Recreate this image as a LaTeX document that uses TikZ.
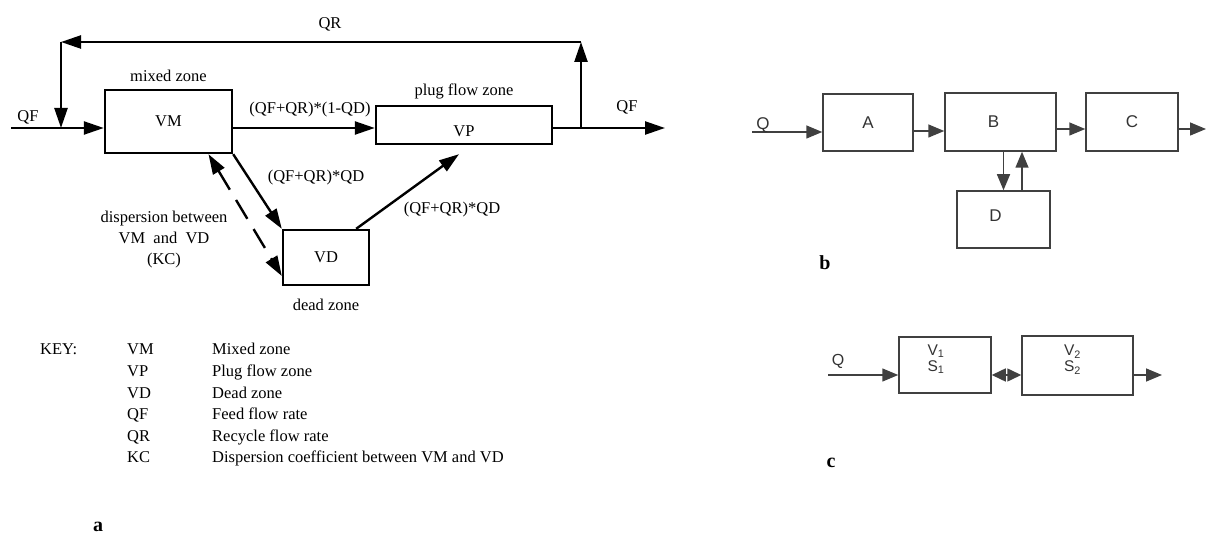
\documentclass[tikz,border=0pt]{standalone}
\usepackage{fontspec}
\setmainfont{Liberation Serif}
\setsansfont{Liberation Sans}
\usetikzlibrary{arrows.meta, positioning, calc}

\begin{document}
\begin{tikzpicture}[x=1pt, y=-1pt, >={Triangle[length=20pt,width=13pt]}, font=\fontsize{16.5}{19}\selectfont,
  zone/.style={draw, line width=2.4pt, inner sep=0pt},
  flow/.style={->, line width=2.4pt},
  blk/.style={draw=black!75, line width=1.5pt, inner sep=0pt, text=black!80, font=\sffamily\fontsize{17}{17}\selectfont},
  blktext/.style={text=black!80, align=center, font=\sffamily\fontsize{15.5}{16}\selectfont},
  link/.style={-{Triangle[length=16pt,width=13pt]}, draw=black!75, line width=1.5pt},
  tag/.style={anchor=base, inner sep=0pt, font=\bfseries\fontsize{20}{20}\selectfont},
  keyrow/.style={anchor=base west, inner sep=0pt}]

\useasboundingbox (0,0) rectangle (1207,534);

% panel a: zones
\node[zone, minimum width=127pt, minimum height=63pt] (vm) at (168.5,121.5) {VM};
\node[zone, minimum width=176pt, minimum height=38pt, label={[yshift=-6pt]center:VP}] (vp) at (464,125) {};
\node[zone, minimum width=86pt, minimum height=55pt] (vd) at (326,257.5) {VD};
\node[above=4pt of vm] (vmname) {mixed zone};
\node[above=2pt of vp] (vpname) {plug flow zone};
\node[below=9pt of vd] (vdname) {dead zone};

% panel a: flows
\coordinate (qfin) at (11,128);
\coordinate (qfout) at (665,128);
\coordinate (rtop) at (581,42);
\coordinate (ltop) at (61,42);
\draw[flow] (qfin) -- (qfin -| vm.west);
\draw[flow] (vm.east |- qfin) -- (vp.west |- qfin);
\draw[flow] (vp.east |- qfin) -- (qfout);
\draw[flow] (rtop |- qfin) -- (rtop);
\draw[flow] (rtop) -- (ltop);
\draw[flow] (ltop) -- (ltop |- qfin);
\draw[flow] (vm.south east) -- (vd.north west);
\draw[flow] ([xshift=-14pt]vd.north east) -- ([xshift=-5pt,yshift=-9pt]vp.south);
\draw[<->, line width=2.4pt, dash pattern=on 22pt off 12pt] ([xshift=40pt]vm.south) -- ([yshift=-18.5pt]vd.west);

\node (qflabin) at (28,117) {QF};
\node (qflabout) at (627,107) {QF};
\node (qrlab) at (330,24) {QR};
\node (toplug) at (310,110) {(QF+QR)*(1-QD)};
\node (todead) at (316,178) {(QF+QR)*QD};
\node (fromdead) at (452,210) {(QF+QR)*QD};
\node[align=center, font=\fontsize{16.5}{21}\selectfont] (kclab) at (164,240) {dispersion between\\VM~~and~~VD\\(KC)};

% panel a: key
\node[keyrow] (keyhead) at (40,355) {KEY:};
\node[keyrow] (kvm) at (127,355) {VM};
\node[keyrow] at (212,355) {Mixed zone};
\node[keyrow] (kvp) at (127,376.5) {VP};
\node[keyrow] at (212,376.5) {Plug flow zone};
\node[keyrow] (kvd) at (127,398) {VD};
\node[keyrow] at (212,398) {Dead zone};
\node[keyrow] (kqf) at (127,419.5) {QF};
\node[keyrow] at (212,419.5) {Feed flow rate};
\node[keyrow] (kqr) at (127,441) {QR};
\node[keyrow] at (212,441) {Recycle flow rate};
\node[keyrow] (kkc) at (127,462.5) {KC};
\node[keyrow] at (212,462.5) {Dispersion coefficient between VM and VD};
\node[tag] (taga) at (98,531) {a};

% panel b
\node[blk, minimum width=90pt, minimum height=57pt] (ba) at (868,122.5) {A};
\node[blk, minimum width=111pt, minimum height=58pt, label={[blktext, font=\sffamily\fontsize{17}{17}\selectfont, xshift=-7pt]center:B}] (bb) at (1000.5,122) {};
\node[blk, minimum width=92pt, minimum height=58pt] (bc) at (1132,122) {C};
\node[blk, minimum width=93pt, minimum height=57pt, label={[blktext, font=\sffamily\fontsize{17}{17}\selectfont, xshift=-8pt, yshift=4pt]center:D}] (bd) at (1003.5,219.5) {};
\coordinate (bin) at (752,132);
\coordinate (bout) at (1206,129);
\draw[link] (bin) -- (bin -| ba.west);
\draw[link] ([yshift=-8.5pt]ba.east) -- ([yshift=-8.5pt]ba.east -| bb.west);
\draw[link] ([yshift=-7pt]bb.east) -- ([yshift=-7pt]bb.east -| bc.west);
\draw[link] (bc.east |- bout) -- (bout);
\draw[link] (bd.north |- bb.south) -- (bd.north);
\draw[link] ([xshift=18.5pt]bd.north) -- ([xshift=18.5pt]bd.north |- bb.south);
\node[blktext, font=\sffamily\fontsize{17}{17}\selectfont] (qb) at (763,125.5) {Q};
\node[tag] (tagb) at (825,270) {b};

% panel c
\node[blk, minimum width=92pt, minimum height=56pt, label={[blktext, xshift=-9pt, yshift=6pt]center:V\textsubscript{1}\\S\textsubscript{1}}] (cone) at (945,365) {};
\node[blk, minimum width=111pt, minimum height=59pt, label={[blktext, xshift=-5pt, yshift=6pt]center:V\textsubscript{2}\\S\textsubscript{2}}] (ctwo) at (1077.5,365.5) {};
\coordinate (cin) at (828,375);
\coordinate (cout) at (1162,375);
\draw[link] (cin) -- (cin -| cone.west);
\draw[{Triangle[length=14pt,width=13pt]}-{Triangle[length=14pt,width=13pt]}, draw=black!75, line width=1.5pt] (cone.east |- cin) -- (ctwo.west |- cin);
\draw[link] (ctwo.east |- cout) -- (cout);
\node[blktext, font=\sffamily\fontsize{16}{16}\selectfont] (qc) at (838,361) {Q};
\node[tag] (tagc) at (831,467) {c};
\end{tikzpicture}
\end{document}
